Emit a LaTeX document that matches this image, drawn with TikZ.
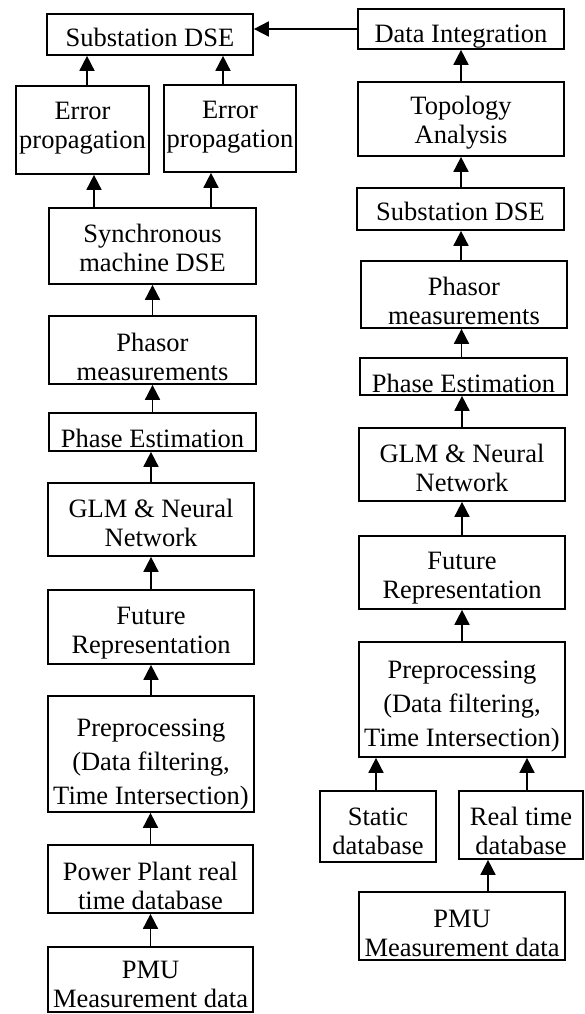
\documentclass[tikz,border=0pt]{standalone}
\usepackage{fontspec}
\setmainfont{Liberation Serif}
\usetikzlibrary{arrows.meta,calc}
\begin{document}
\begin{tikzpicture}[x=1pt,y=-1pt,
  box/.style={draw,line width=1.7pt,inner sep=0pt,align=center,font=\fontsize{26.5}{29}\selectfont},
  arr/.style={line width=1.7pt,-{Triangle[length=15pt,width=15pt]}}]
\useasboundingbox (0,0) rectangle (584,1014);
\newcommand{\bx}[7]{\node[box,minimum width={#3-#2},minimum height={#5-#4},text height=#6pt,text depth=0pt] (#1) at ({(#2+#3)/2},{(#4+#5)/2}) {#7};}
% left column
\bx{lsub}{47}{253}{14}{55}{25}{Substation DSE}
\bx{lepa}{16}{149}{86}{174}{37}{Error\\propagation}
\bx{lepb}{164}{296}{85}{172}{37}{Error\\propagation}
\bx{lsync}{49}{256}{208}{284}{51}{Synchronous\\machine DSE}
\bx{lpha}{49}{256}{316}{384}{61}{Phasor\\measurements}
\bx{lpe}{49}{256}{413}{451}{30}{Phase Estimation}
\bx{lglm}{48}{254}{483}{556}{54}{GLM \& Neural\\Network}
\bx{lfut}{48}{254}{590}{664}{53}{Future\\Representation}
\bx{lpre}{48}{254}{696}{812}{100}{Preprocessing\\[5pt](Data filtering,\\[5pt]Time Intersection)}
\bx{lppl}{48}{253}{845}{913}{61}{Power Plant real\\time database}
\bx{lpmu}{48}{253}{947}{1012}{55}{PMU\\Measurement data}
% right column
\bx{rdi}{358}{564}{9}{49}{28}{Data Integration}
\bx{rtop}{358}{564}{82}{156}{49}{Topology\\Analysis}
\bx{rsub}{357}{564}{188}{230}{22}{Substation DSE}
\bx{rpha}{361}{567}{261}{328}{60}{Phasor\\measurements}
\bx{rpe}{360}{567}{358}{395}{31}{Phase Estimation}
\bx{rglm}{359}{565}{428}{501}{54}{GLM \& Neural\\Network}
\bx{rfut}{359}{565}{536}{609}{51}{Future\\Representation}
\bx{rpre}{359}{565}{642}{757}{93}{Preprocessing\\[5pt](Data filtering,\\[5pt]Time Intersection)}
\bx{rsta}{320}{436}{791}{862}{55}{Static\\database}
\bx{rrt}{459}{583}{791}{859}{58}{Real time\\database}
\bx{rpmu}{359}{565}{892}{960}{60}{PMU\\Measurement data}
% left arrows
\draw[arr] (lpmu.north) -- (lpmu.north |- lppl.south);
\draw[arr] (lppl.north) -- (lppl.north |- lpre.south);
\draw[arr] (lpre.north) -- (lpre.north |- lfut.south);
\draw[arr] (lfut.north) -- (lfut.north |- lglm.south);
\draw[arr] (lglm.north) -- (lglm.north |- lpe.south);
\draw[arr] (lpe.north) -- (lpe.north |- lpha.south);
\draw[arr] (lpha.north) -- (lpha.north |- lsync.south);
\draw[arr] ([xshift=-58.5pt]lsync.north) -- ([xshift=-58.5pt]lsync.north |- lepa.south);
\draw[arr] ([xshift=58.5pt]lsync.north) -- ([xshift=58.5pt]lsync.north |- lepb.south);
\draw[arr] ([xshift=4.5pt]lepa.north) -- ([xshift=4.5pt]lepa.north |- lsub.south);
\draw[arr] ([xshift=-7pt]lepb.north) -- ([xshift=-7pt]lepb.north |- lsub.south);
% right arrows
\draw[arr] ([xshift=26pt]rpmu.north) -- ([xshift=26pt]rpmu.north |- rrt.south);
\draw[arr] ([xshift=-2pt]rsta.north) -- ([xshift=-2pt]rsta.north |- rpre.south);
\draw[arr] ([xshift=6pt]rrt.north) -- ([xshift=6pt]rrt.north |- rpre.south);
\draw[arr] (rpre.north) -- (rpre.north |- rfut.south);
\draw[arr] (rfut.north) -- (rfut.north |- rglm.south);
\draw[arr] (rglm.north) -- (rglm.north |- rpe.south);
\draw[arr] ([xshift=-2pt]rpe.north) -- ([xshift=-2pt]rpe.north |- rpha.south);
\draw[arr] ([xshift=-3pt]rpha.north) -- ([xshift=-3pt]rpha.north |- rsub.south);
\draw[arr] ([xshift=0.5pt]rsub.north) -- ([xshift=0.5pt]rsub.north |- rtop.south);
\draw[arr] (rtop.north) -- (rtop.north |- rdi.south);
\draw[arr] (rdi.west) -- (rdi.west -| lsub.east);
\end{tikzpicture}
\end{document}
